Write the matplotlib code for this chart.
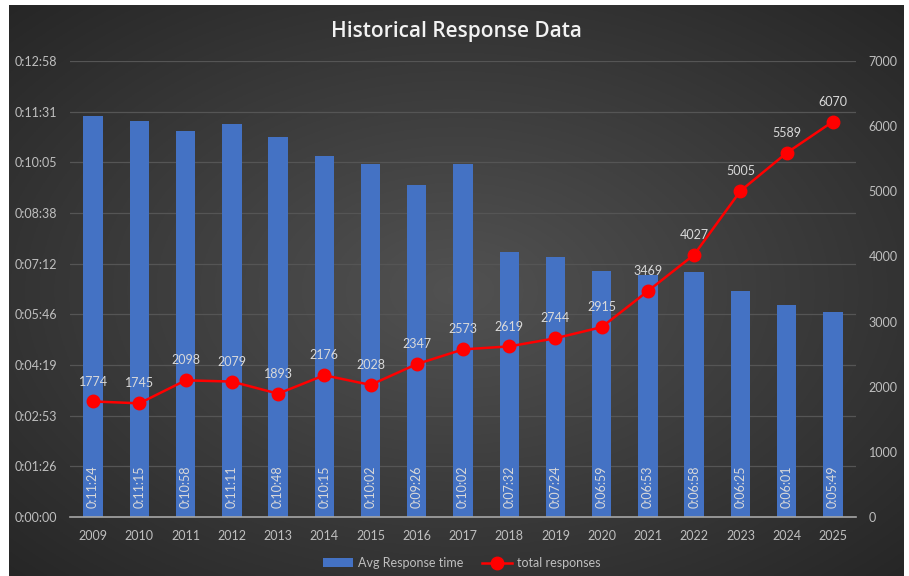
import numpy as np
import matplotlib.pyplot as plt
from matplotlib.ticker import FuncFormatter, MultipleLocator

years = ['2009', '2010', '2011', '2012', '2013', '2014', '2015', '2016', '2017',
         '2018', '2019', '2020', '2021', '2022', '2023', '2024', '2025']
avg_time = ['0:11:24', '0:11:15', '0:10:58', '0:11:11', '0:10:48', '0:10:15',
            '0:10:02', '0:09:26', '0:10:02', '0:07:32', '0:07:24', '0:06:59',
            '0:06:53', '0:06:58', '0:06:25', '0:06:01', '0:05:49']
responses = [1774, 1745, 2098, 2079, 1893, 2176, 2028, 2347, 2573, 2619, 2744,
             2915, 3469, 4027, 5005, 5589, 6070]


def to_sec(s):
    h, m, sec = s.split(':')
    return int(h) * 3600 + int(m) * 60 + int(sec)


def fmt_time(v, pos=None):
    v = int(round(v))
    return '%d:%02d:%02d' % (v // 3600, (v % 3600) // 60, v % 60)


secs = [to_sec(t) for t in avg_time]
x = np.arange(len(years))

plt.rcParams['font.family'] = ['Lato', 'DejaVu Sans']
txt_col = '#bfbfbf'
lab_col = '#d9d9d9'

fig = plt.figure(figsize=(9.09, 5.76), dpi=100)
fig.patch.set_facecolor('white')

# dark radial background
bg = fig.add_axes([9 / 909, 0, (904 - 9) / 909, (576 - 5) / 576])
gx, gy = np.meshgrid(np.linspace(-1, 1, 400), np.linspace(-1, 1, 260))
r = np.sqrt(gx ** 2 + gy ** 2) / np.sqrt(2)
shade = 0.32 - 0.17 * r
img = np.dstack([shade, shade, shade])
bg.imshow(img, aspect='auto', extent=[0, 1, 0, 1])
bg.set_axis_off()

ax = fig.add_axes([70 / 909, (576 - 517) / 576, (856 - 70) / 909, (517 - 61) / 576])
ax.set_facecolor('none')
ax.bar(x, secs, width=0.42, color='#4472C4', label='Avg Response time', zorder=2)
for xi, t in zip(x, avg_time):
    ax.text(xi, 9 * 777.6 / 456, t, rotation=90, ha='center', va='bottom',
            color=lab_col, fontsize=9, zorder=3)

ax.set_xlim(-0.5, len(years) - 0.5)
ax.set_ylim(0, 777.6)
ax.yaxis.set_major_locator(MultipleLocator(86.4))
ax.yaxis.set_major_formatter(FuncFormatter(fmt_time))
ax.set_xticks(x)
ax.set_xticklabels(years)
ax.grid(axis='y', color='#555555', linewidth=0.9, zorder=0)
ax.set_axisbelow(True)
for sp in ['top', 'right', 'left']:
    ax.spines[sp].set_visible(False)
ax.spines['bottom'].set_color('#a6a6a6')
ax.spines['bottom'].set_linewidth(1.2)
ax.tick_params(length=0, colors=txt_col, labelsize=9)
ax.tick_params(axis='x', pad=9)
ax.tick_params(axis='y', pad=9)

ax2 = ax.twinx()
ax2.plot(x, responses, color='#ff0000', linewidth=1.8, marker='o', markersize=9,
         label='total responses', zorder=4)
for xi, v in zip(x, responses):
    ax2.annotate(str(v), (xi, v), xytext=(0, 10), textcoords='offset points',
                 ha='center', va='bottom', color=lab_col, fontsize=9)
ax2.set_ylim(0, 7000)
ax2.yaxis.set_major_locator(MultipleLocator(1000))
for sp in ['top', 'right', 'left', 'bottom']:
    ax2.spines[sp].set_visible(False)
ax2.tick_params(length=0, colors=txt_col, labelsize=9, pad=9)

fig.text(0.502, (576 - 31) / 576, 'Historical Response Data', ha='center', va='center',
         color='#f2f2f2', fontsize=15, fontweight='semibold', family=['Open Sans', 'DejaVu Sans'])

h1, l1 = ax.get_legend_handles_labels()
h2, l2 = ax2.get_legend_handles_labels()
leg = fig.legend(h1 + h2, l1 + l2, loc='center', bbox_to_anchor=(0.508, 13 / 576),
                 ncol=2, frameon=False, fontsize=9, handlelength=2.4,
                 columnspacing=1.5, handletextpad=0.4)
for t in leg.get_texts():
    t.set_color(txt_col)

fig.savefig('out.png', dpi=100, facecolor=fig.get_facecolor())
